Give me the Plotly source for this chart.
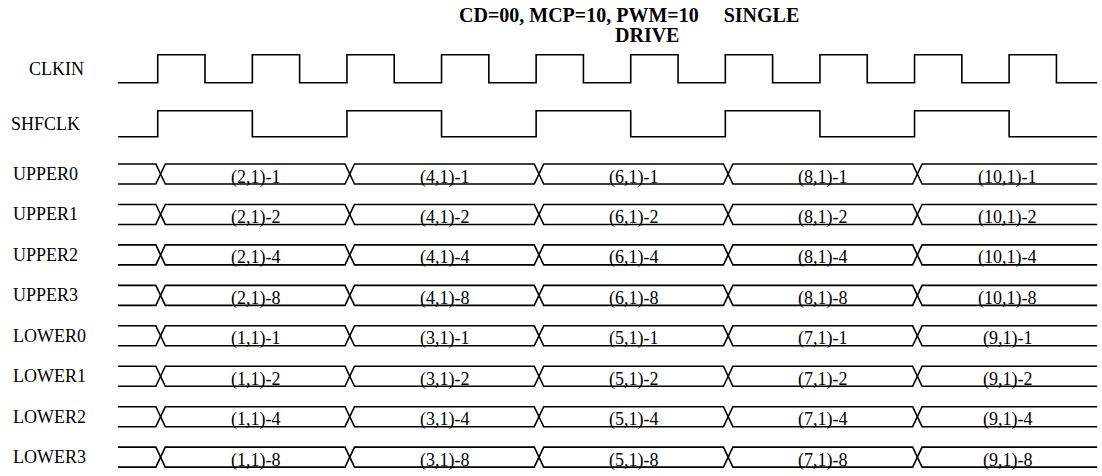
import plotly.graph_objects as go

# timing data (time units, clock period = 10)
clkin_rise = [4.2, 14.2, 24.2, 34.2, 44.2, 54.2, 64.2, 74.2, 84.2, 94.2]
clkin_fall = [9.2, 19.2, 29.2, 39.2, 49.2, 59.2, 69.2, 79.2, 89.2, 99.2]
shfclk_toggle = [4.2, 14.2, 24.2, 34.2, 44.2, 54.2, 64.2, 74.2, 84.2, 94.2]
bus_change = [4.5, 24.5, 44.5, 64.5, 84.5]
t_start = 0.0
t_end = 103.5

upper_names = ["UPPER0", "UPPER1", "UPPER2", "UPPER3"]
lower_names = ["LOWER0", "LOWER1", "LOWER2", "LOWER3"]
upper_pairs = ["(2,1)", "(4,1)", "(6,1)", "(8,1)", "(10,1)"]
lower_pairs = ["(1,1)", "(3,1)", "(5,1)", "(7,1)", "(9,1)"]
bit_weights = ["1", "2", "4", "8"]

title_line1 = "CD=00, MCP=10, PWM=10\u00a0\u00a0\u00a0\u00a0\u00a0SINGLE"
title_line2 = "DRIVE"

W, H = 1102, 476
PX = 9.46          # pixels per time unit
X0 = 118           # pixel of t=0
FONT = "Liberation Serif, Times New Roman, serif"
LINE = dict(color="black", width=1.6)

fig = go.Figure()


def step_trace(edges, y_lo, y_hi):
    xs, ys = [t_start], [y_lo]
    level = y_lo
    for t in edges:
        xs += [t, t]
        ys += [level, y_hi if level == y_lo else y_lo]
        level = ys[-1]
    xs.append(t_end)
    ys.append(level)
    fig.add_trace(go.Scatter(x=xs, y=ys, mode="lines", line=LINE,
                             hoverinfo="skip", showlegend=False))


def label(text, y, x_px=11):
    fig.add_annotation(x=x_px / W, xref="paper", y=y, yref="y", text=text,
                       showarrow=False, xanchor="left", yanchor="middle",
                       font=dict(family=FONT, size=18, color="black"))


# clocks (y in pixel units, top = 0)
clk_hi, clk_lo = 54.7, 82.7
merged = sorted(clkin_rise + clkin_fall)
step_trace(merged, clk_lo, clk_hi)
label("CLKIN", (clk_hi + clk_lo) / 2, 27)

shf_hi, shf_lo = 110.7, 136.7
step_trace(shfclk_toggle, shf_lo, shf_hi)
label("SHFCLK", (shf_hi + shf_lo) / 2, 9)

# buses
w = 0.5
half = 10
rows = [(n, upper_pairs, b) for n, b in zip(upper_names, bit_weights)] + \
       [(n, lower_pairs, b) for n, b in zip(lower_names, bit_weights)]
for i, (name, pairs, bit) in enumerate(rows):
    yc = 174 + 40.45 * i
    top, bot = yc - half, yc + half
    for start_top in (True, False):
        xs, ys = [t_start], [top if start_top else bot]
        cur = ys[0]
        for tc in bus_change:
            other = bot if cur == top else top
            xs += [tc - w, tc + w]
            ys += [cur, other]
            cur = other
        xs.append(t_end)
        ys.append(cur)
        fig.add_trace(go.Scatter(x=xs, y=ys, mode="lines", line=LINE,
                                 hoverinfo="skip", showlegend=False))
    bounds = bus_change + [t_end]
    for k, p in enumerate(pairs):
        fig.add_annotation(x=(bounds[k] + bounds[k + 1]) / 2, y=yc, text=f"{p}-{bit}",
                           showarrow=False, yshift=-3,
                           font=dict(family=FONT, size=18, color="black"))
    label(name, yc)

fig.add_annotation(x=629 / W, xref="paper", y=15, yref="y", text=title_line1,
                   showarrow=False, font=dict(family=FONT, size=20, color="black", weight="bold"))
fig.add_annotation(x=647 / W, xref="paper", y=35, yref="y", text=title_line2,
                   showarrow=False, font=dict(family=FONT, size=20, color="black", weight="bold"))

fig.update_layout(
    width=W, height=H,
    margin=dict(l=0, r=0, t=0, b=0),
    plot_bgcolor="white", paper_bgcolor="white",
    xaxis=dict(range=[-X0 / PX, (W - X0) / PX], visible=False, fixedrange=True),
    yaxis=dict(range=[H, 0], visible=False, fixedrange=True),
)

fig.write_html(
    "out.html",
    config={"displayModeBar": False},
    post_script="document.body.style.margin='0';document.body.style.overflow='hidden';",
)
